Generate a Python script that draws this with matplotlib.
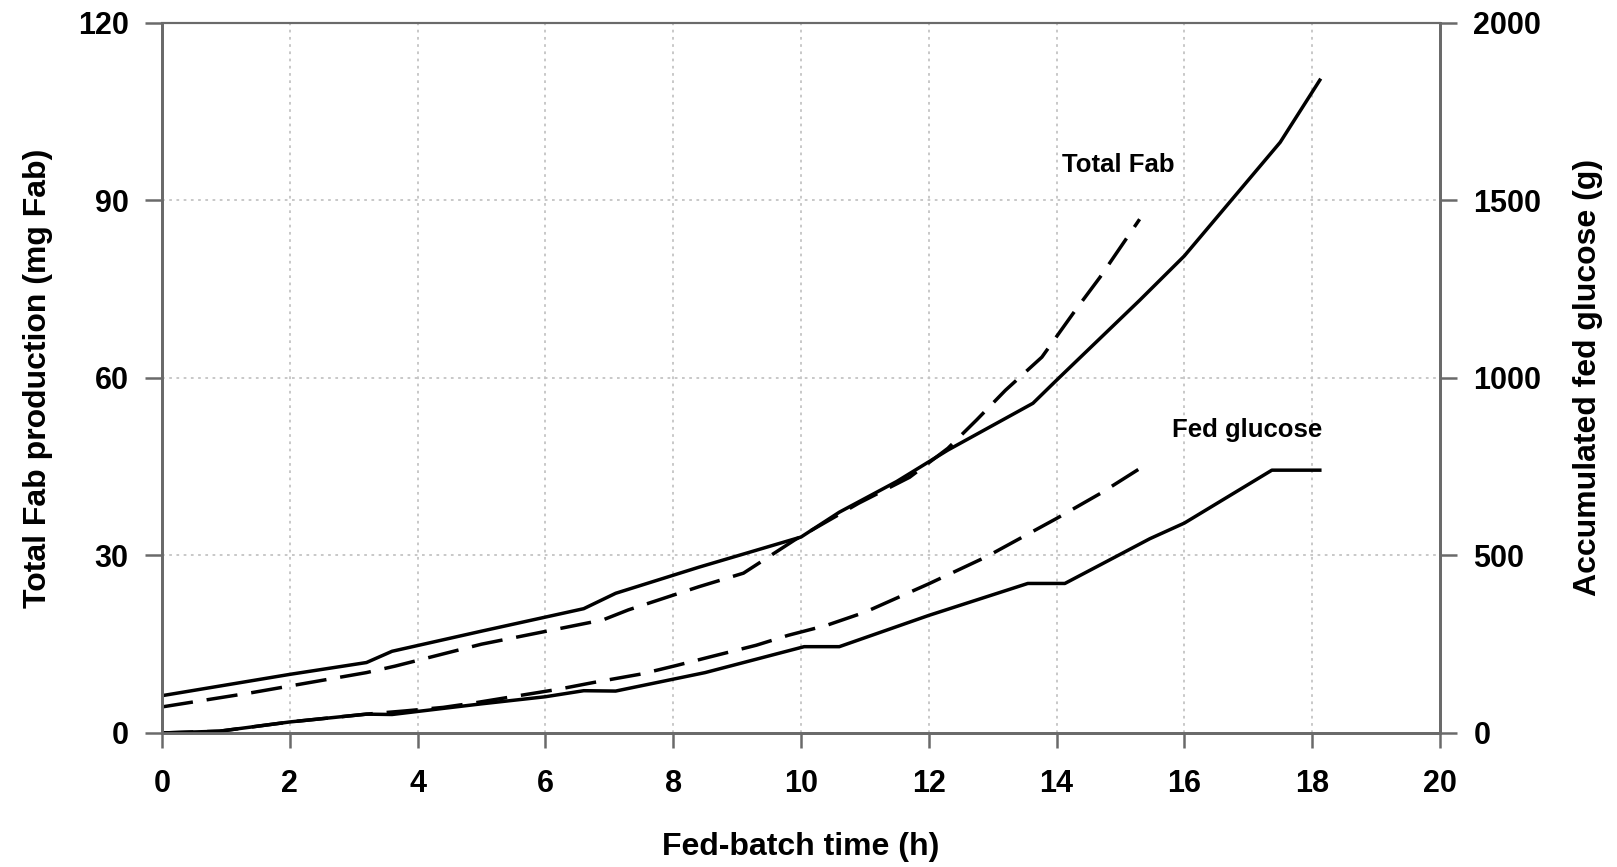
import matplotlib
matplotlib.use("Agg")
import matplotlib.pyplot as plt

plt.rcParams['font.family'] = ['Liberation Sans', 'DejaVu Sans']
plt.rcParams['font.weight'] = 'bold'

# Total Fab production (mg Fab), left axis
time_fab = [0, 1.0, 2.0, 3.2, 3.6, 5.0, 6.6, 7.1, 8.4, 10.0, 10.6, 11.5, 12.3,
            13.63, 14.0, 15.3, 16.0, 17.5, 18.12]
fab_exp = [6.3, 8.1, 9.9, 11.9, 13.8, 17.2, 21.0, 23.6, 28.0, 33.1, 37.3, 42.5,
           47.8, 55.7, 59.6, 73.1, 80.6, 99.8, 110.3]

time_fab_model = [0, 1.4, 3.2, 3.65, 5.0, 6.9, 7.3, 8.4, 9.1, 9.9, 10.9, 11.7,
                  12.3, 12.75, 13.2, 13.77, 14.3, 14.68, 15.3]
fab_model = [4.4, 6.8, 10.2, 11.3, 15.0, 19.1, 20.8, 24.7, 27.0, 32.6, 38.8,
             43.2, 48.1, 52.9, 57.9, 63.5, 71.5, 77.0, 86.8]

# Accumulated fed glucose (g), right axis
time_glc = [0, 0.9, 2.0, 3.2, 3.6, 5.0, 6.0, 6.6, 7.1, 8.5, 10.05, 10.6, 12.0,
            13.55, 14.13, 14.68, 15.46, 16.0, 17.37, 18.12]
glc_exp = [0, 5, 31, 53, 52, 82, 102, 119, 118, 170, 243, 243, 331, 421, 421,
           473, 547, 591, 740, 740]

time_glc_model = [0, 0.9, 2.0, 3.2, 3.8, 4.4, 4.9, 5.65, 6.2, 6.75, 7.5, 8.05,
                  8.55, 9.3, 9.8, 10.4, 11.0, 12.0, 12.9, 14.0, 14.7, 15.35]
glc_model = [0, 5, 31, 53, 62, 72, 85, 107, 123, 142, 166, 190, 213, 247, 275,
             303, 340, 420, 496, 604, 676, 750]

x_ticks = list(range(0, 21, 2))
fab_ticks = [0, 30, 60, 90, 120]
glc_ticks = [0, 500, 1000, 1500, 2000]

SPINE = '#6a6a6a'
GRID = '#c4c4c4'

fig = plt.figure(figsize=(16.17, 8.67), dpi=100)
ax = fig.add_axes([0.1002, 0.1546, 0.7903, 0.8192])
ax2 = ax.twinx()

# grid
for xv in x_ticks[1:-1]:
    ax.axvline(xv, color=GRID, lw=1.3, ls=(0, (1.5, 2.5)), zorder=0)
for yv in fab_ticks[1:-1]:
    ax.axhline(yv, color=GRID, lw=1.3, ls=(0, (1.5, 2.5)), zorder=0)

ax.plot(time_fab, fab_exp, color='black', lw=2.5, solid_joinstyle='round')
ax.plot(time_fab_model, fab_model, color='black', lw=2.5, dashes=(9, 4))
ax2.plot(time_glc, glc_exp, color='black', lw=2.5, solid_joinstyle='round')
ax2.plot(time_glc_model, glc_model, color='black', lw=2.5, dashes=(9, 4))

ax.set_xlim(0, 20)
ax.set_ylim(0, 120)
ax2.set_ylim(0, 2000)
ax.set_xticks(x_ticks)
ax.set_yticks(fab_ticks)
ax2.set_yticks(glc_ticks)

for a in (ax, ax2):
    for s in a.spines.values():
        s.set_color(SPINE)
        s.set_linewidth(2.0)
    a.spines['top'].set_linewidth(1.5)

ax.tick_params(axis='x', direction='out', length=11, width=1.8, color=SPINE,
               labelsize=22, pad=15)
ax.tick_params(axis='y', direction='out', length=12, width=1.8, color=SPINE,
               labelsize=22, pad=12)
ax2.tick_params(axis='y', direction='out', length=12, width=1.8, color=SPINE,
                labelsize=22, pad=12)

ax.set_xlabel('Fed-batch time (h)', fontsize=23, fontweight='bold')
ax.set_ylabel('Total Fab production (mg Fab)', fontsize=23, fontweight='bold')
ax2.set_ylabel('Accumulated fed glucose (g)', fontsize=23, fontweight='bold')
ax.xaxis.set_label_coords(0.5, -0.139)
ax.yaxis.set_label_coords(-0.085, 0.5)
ax2.yaxis.set_label_coords(1.104, 0.5)

ax.text(14.97, 95.9, 'Total Fab', fontsize=18.5, fontweight='bold',
        ha='center', va='center')
ax.text(16.98, 51.2, 'Fed glucose', fontsize=18.5, fontweight='bold',
        ha='center', va='center')

fig.savefig('out.png', dpi=100, facecolor='white')
